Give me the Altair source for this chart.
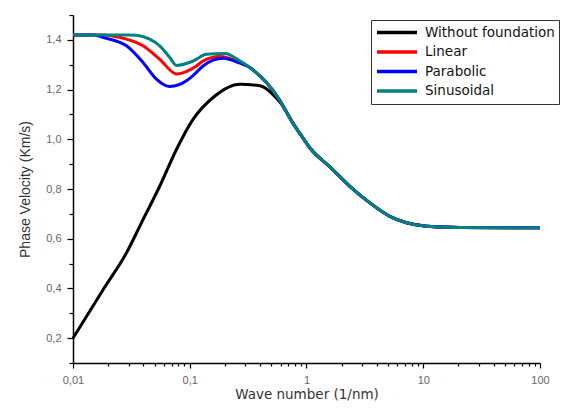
import altair as alt
import pandas as pd

# ---- data ----
series_names = ["Without foundation", "Linear", "Parabolic", "Sinusoidal"]
series_colors = ["#000000", "#ff0000", "#0000ff", "#008080"]

# shared descending tail (all four curves coincide here)
tail_x = [0.767, 0.925, 1.067, 1.585, 2.35, 3.49, 5.17, 7.19, 10.7, 20.6, 100]
tail_y = [1.064, 1.008, 0.966, 0.889, 0.811, 0.744, 0.690, 0.664, 0.650, 0.645, 0.644]

# part shared by the three foundation curves after they merge
merged_x = [0.33, 0.398, 0.454, 0.59, 0.675]
merged_y = [1.288, 1.255, 1.228, 1.157, 1.110]

black_x = [0.01, 0.0181, 0.0287, 0.0398, 0.0553, 0.0769, 0.1067, 0.1585, 0.268, 0.398, 0.514, 0.611, 0.675]
black_y = [0.2, 0.395, 0.543, 0.677, 0.811, 0.959, 1.080, 1.168, 1.221, 1.215, 1.181, 1.141, 1.108]

red_x = [0.01, 0.018, 0.0251, 0.0398, 0.0553, 0.0769, 0.114, 0.130, 0.180, 0.268]
red_y = [1.42, 1.42, 1.41, 1.376, 1.322, 1.263, 1.295, 1.315, 1.333, 1.310]

blue_x = [0.01, 0.015, 0.018, 0.0287, 0.0398, 0.0518, 0.0675, 0.0938, 0.114, 0.130, 0.193, 0.27]
blue_y = [1.42, 1.42, 1.41, 1.376, 1.309, 1.242, 1.212, 1.235, 1.269, 1.295, 1.326, 1.306]

teal_x = [0.01, 0.02, 0.03, 0.0349, 0.0454, 0.0553, 0.0675, 0.0769, 0.107, 0.139, 0.2, 0.268]
teal_y = [1.42, 1.42, 1.42, 1.419, 1.403, 1.376, 1.329, 1.297, 1.315, 1.342, 1.345, 1.316]

y_tick_values = [0.1, 0.2, 0.3, 0.4, 0.5, 0.6, 0.7, 0.8, 0.9, 1.0, 1.1, 1.2, 1.3, 1.4, 1.5]
x_tick_values = [0.01, 0.02, 0.03, 0.04, 0.05, 0.06, 0.07, 0.08, 0.09,
                 0.1, 0.2, 0.3, 0.4, 0.5, 0.6, 0.7, 0.8, 0.9,
                 1, 2, 3, 4, 5, 6, 7, 8, 9,
                 10, 20, 30, 40, 50, 60, 70, 80, 90, 100]

rows = []
def add(name, xs, ys):
    for i, (a, b) in enumerate(zip(xs, ys)):
        rows.append({"series": name, "k": a, "v": b, "i": i})

add(series_names[0], black_x + tail_x, black_y + tail_y)
add(series_names[1], red_x + merged_x + tail_x, red_y + merged_y + tail_y)
add(series_names[2], blue_x + merged_x + tail_x, blue_y + merged_y + tail_y)
add(series_names[3], teal_x + merged_x + tail_x, teal_y + merged_y + tail_y)
df = pd.DataFrame(rows)

FONT = "Liberation Sans"
WIDE = "DejaVu Sans"

y_major = "abs(datum.value*5 - round(datum.value*5)) < 0.001"
x_major = "abs(log(datum.value)/LN10 - round(log(datum.value)/LN10)) < 0.000001"

chart = alt.Chart(df).mark_line(strokeWidth=3, interpolate="monotone").encode(
    x=alt.X("k:Q",
            scale=alt.Scale(type="log", domain=[0.01, 100], nice=False),
            axis=alt.Axis(title="Wave number (1/nm)", values=x_tick_values,
                          labelExpr=f"{x_major} ? replace(format(datum.value, '~g'), '.', ',') : ''",
                          tickSize={"condition": {"test": x_major, "value": 5}, "value": 3},
                          labelOverlap=False, labelFlush=False, grid=False,
                          labelPadding=6, titlePadding=2,
                          titleFont=WIDE, titleFontSize=13.5)),
    y=alt.Y("v:Q",
            scale=alt.Scale(domain=[0.1, 1.5], nice=False, zero=False),
            axis=alt.Axis(title="Phase Velocity (Km/s)", values=y_tick_values,
                          labelExpr=f"{y_major} ? replace(format(datum.value, '.1f'), '.', ',') : ''",
                          tickSize={"condition": {"test": y_major, "value": 6}, "value": 4},
                          labelOverlap=False, labelFlush=False, grid=False,
                          labelPadding=6, titlePadding=13,
                          titleFont=FONT, titleFontSize=14)),
    color=alt.Color("series:N",
                    scale=alt.Scale(domain=series_names, range=series_colors),
                    legend=alt.Legend(title=None, orient="none", legendX=298, legendY=5,
                                      symbolType="stroke", symbolSize=1600, symbolStrokeWidth=3.5,
                                      clipHeight=17, rowPadding=2.5,
                                      labelFont=WIDE, labelFontSize=13.5, labelColor="#111",
                                      labelOffset=6,
                                      strokeColor="#333", padding=4, fillColor="white")),
    detail="series:N",
    order="i:Q",
).properties(
    width=467, height=348,
    autosize=alt.AutoSizeParams(type="none"),
    padding={"left": 73, "top": 15, "right": 25, "bottom": 45},
).configure_view(stroke=None).configure_axis(
    domainColor="#000", domainWidth=1.5, tickColor="#000", tickWidth=1.2,
    labelFont=FONT, labelFontSize=11, labelColor="#666",
    titleFontWeight="normal", titleColor="#333",
)

chart.save("out.html", embed_options={"renderer": "svg", "actions": False})
